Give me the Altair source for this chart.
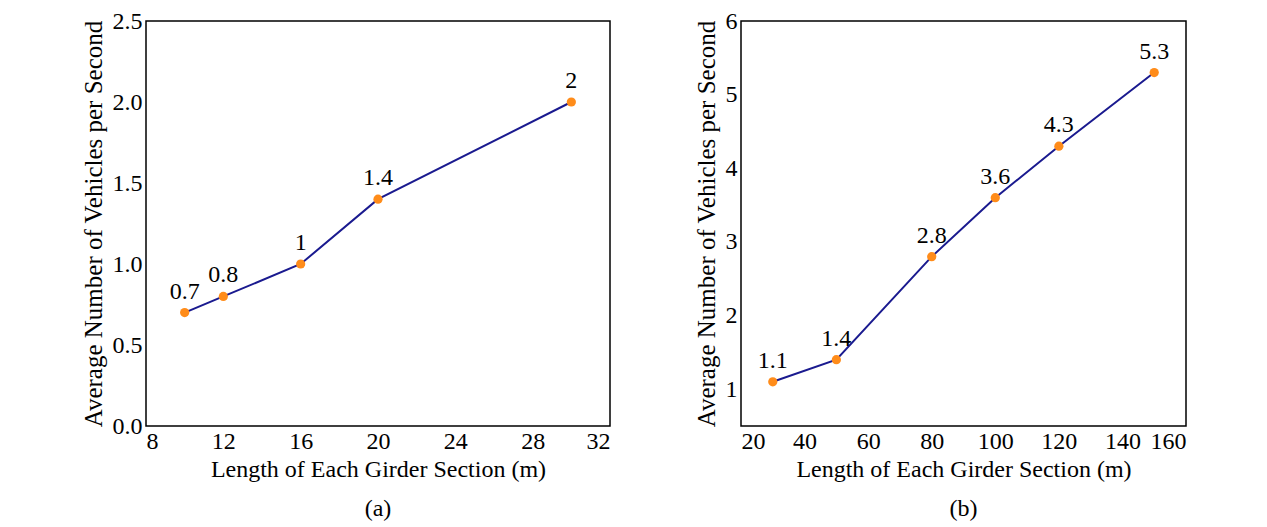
import altair as alt
import pandas as pd

# Panel (a)
a_len = [10, 12, 16, 20, 30]
a_veh = [0.7, 0.8, 1.0, 1.4, 2.0]
a_xticks = [8, 12, 16, 20, 24, 28, 32]
a_yticks = [0.0, 0.5, 1.0, 1.5, 2.0, 2.5]

# Panel (b)
b_len = [30, 50, 80, 100, 120, 150]
b_veh = [1.1, 1.4, 2.8, 3.6, 4.3, 5.3]
b_xticks = [20, 40, 60, 80, 100, 120, 140, 160]
b_yticks = [1, 2, 3, 4, 5, 6]

FONT = "Liberation Serif"
LINE = "#1a1a8f"
PT = "#ff8c1a"


def panel(x, y, xdom, xticks, ydom, yticks, yfmt, sub, w):
    df = pd.DataFrame({"x": x, "y": y})
    base = alt.Chart(df).encode(
        x=alt.X("x:Q", scale=alt.Scale(domain=xdom, nice=False, zero=False),
                axis=alt.Axis(values=xticks, format="d", titleFontSize=24,
                              labelPadding=3, titlePadding=4,
                              title="Length of Each Girder Section (m)")),
        y=alt.Y("y:Q", scale=alt.Scale(domain=ydom, nice=False, zero=False),
                axis=alt.Axis(values=yticks, format=yfmt, titleFontSize=25,
                              title="Average Number of Vehicles per Second")),
    )
    line = base.mark_line(color=LINE, strokeWidth=2)
    pts = base.mark_circle(color=PT, size=85, opacity=1)
    txt = base.mark_text(dy=-21, font=FONT, fontSize=24, color="black").encode(
        text=alt.Text("y:Q", format="~g"))
    return alt.layer(line, pts, txt).properties(
        width=w, height=405,
        title=alt.TitleParams(sub, orient="bottom", font=FONT, fontSize=24,
                              fontWeight="normal", color="black", offset=16))


left = panel(a_len, a_veh, [8, 32], a_xticks, [0, 2.5], a_yticks, ".1f", "(a)", 464)
right = panel(b_len, b_veh, [20, 160], b_xticks, [0.5, 6], b_yticks, "d", "(b)", 445)

chart = alt.hconcat(left, right, spacing=82).properties(
    padding={"left": 72, "top": 0, "right": 5, "bottom": 0},
    background="white",
).configure_view(
    stroke="black", strokeWidth=1.5
).configure_axis(
    grid=False, ticks=False, domain=False,
    labelFont=FONT, labelFontSize=24, labelColor="black", labelPadding=4,
    titleFont=FONT, titleFontWeight="normal", titleColor="black",
    titlePadding=6,
)

chart.save("out.html", embed_options={"renderer": "svg", "actions": False})
